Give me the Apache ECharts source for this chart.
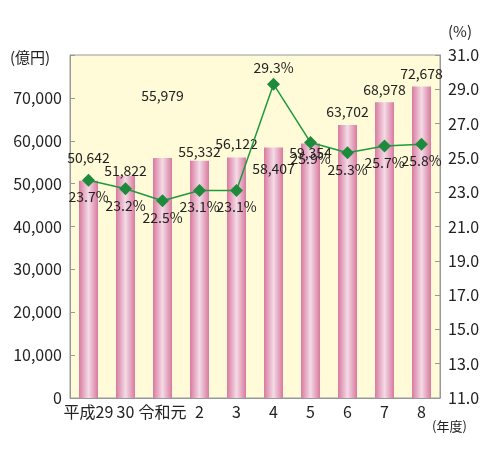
<!DOCTYPE html><html><head><meta charset="utf-8"><script src="https://cdn.jsdelivr.net/npm/echarts@6/dist/echarts.min.js"></script></head><body style="margin:0"><div id="c" style="width:495px;height:472px"></div><script>
const categories=['平成29','30','令和元','2','3','4','5','6','7','8'];
const amounts=[50642,51822,55979,55332,56122,58407,59354,63702,68978,72678];
const rates=[23.7,23.2,22.5,23.1,23.1,29.3,25.9,25.3,25.7,25.8];
// label layout tweaks (pixels), not data
const barLabelDy=[-12,6,-51,2,-3,32,20,-2,-2,-2];
const ch=echarts.init(document.getElementById('c'));
const f='"Noto Sans CJK JP","Noto Sans",sans-serif';
ch.setOption({
 textStyle:{fontFamily:f},
 grid:{left:70,right:55,top:55,bottom:74,show:true,backgroundColor:'#fffbd9',borderColor:'#999',borderWidth:1},
 graphic:[
  {type:'text',left:10,top:50,style:{text:'(億円)',font:'15px '+f,fill:'#222'}},
  {type:'text',left:448,top:24,style:{text:'(%)',font:'15px '+f,fill:'#222'}},
  {type:'text',left:432,top:420,style:{text:'(年度)',font:'13px '+f,fill:'#222'}}],
 xAxis:{type:'category',data:categories,axisTick:{show:false},axisLine:{lineStyle:{color:'#999'}},axisLabel:{color:'#222',fontSize:16,margin:6,interval:0}},
 yAxis:[{type:'value',min:0,max:80000,interval:10000,axisLine:{show:true,lineStyle:{color:'#999'}},axisTick:{show:true,inside:true,lineStyle:{color:'#999'}},splitLine:{show:false},
   axisLabel:{color:'#222',fontSize:16,formatter:v=>v==80000?'':v.toLocaleString('en-US')}},
  {type:'value',min:11,max:31,interval:2,position:'right',axisLine:{show:true,lineStyle:{color:'#999'}},axisTick:{show:true,inside:true,lineStyle:{color:'#999'}},splitLine:{show:false},
   axisLabel:{color:'#222',fontSize:16,formatter:v=>v.toFixed(1)}}],
 series:[
  {type:'bar',data:amounts.map((v,i)=>({value:v,label:{offset:[0,barLabelDy[i]]}})),barWidth:19,itemStyle:{color:{type:'linear',x:0,y:0,x2:1,y2:0,colorStops:[{offset:0,color:'#d9799f'},{offset:0.5,color:'#f3dbe6'},{offset:1,color:'#d9799f'}]}},
   label:{show:true,position:'top',fontSize:14,color:'#222',distance:4,formatter:p=>p.value.toLocaleString('en-US')}},
  {type:'line',yAxisIndex:1,z:5,data:rates.map((v,i)=>i==5?{value:v,label:{position:'top'}}:v),symbol:'diamond',symbolSize:13,lineStyle:{color:'#1e9a3c',width:1.5},itemStyle:{color:'#1e8a3c'},
   label:{show:true,position:'bottom',fontSize:14,color:'#222',distance:3,formatter:'{c}%'}}]
});
</script></body></html>
